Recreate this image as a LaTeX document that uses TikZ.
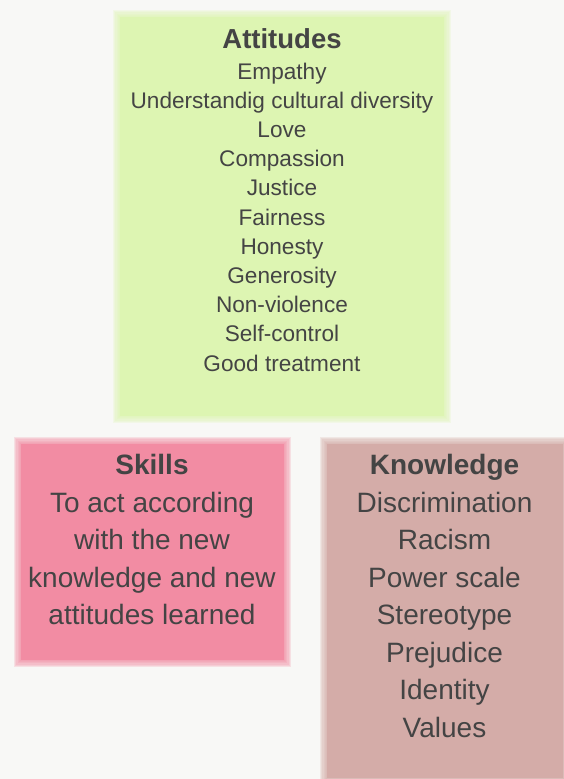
\documentclass[tikz,border=0pt]{standalone}
\usepackage{fontspec}
\setmainfont{Liberation Sans}
\definecolor{bgc}{RGB}{248,248,246}
\definecolor{attc}{RGB}{221,245,178}
\definecolor{skic}{RGB}{242,140,163}
\definecolor{knoc}{RGB}{212,172,168}
\definecolor{txtc}{RGB}{68,68,68}
\tikzset{
  boxnode/.style={draw=none, inner sep=0pt, outer sep=0pt},
  titletxt/.style={anchor=base, inner sep=0pt, text=txtc, font=\fontsize{27.5}{33}\selectfont\bfseries},
  smalltxt/.style={anchor=base, inner sep=0pt, text=txtc, font=\fontsize{22.6}{27}\selectfont},
  bigtxt/.style={anchor=base, inner sep=0pt, text=txtc, font=\fontsize{28}{33}\selectfont},
}
\begin{document}
\begin{tikzpicture}[x=1pt,y=-1pt]
\useasboundingbox (0,0) rectangle (564,779);
\fill[bgc] (0,0) rectangle (564,779);
% soft edged boxes
\foreach \c/\xa/\ya/\xb/\yb in {attc/113/10/451/423, skic/14/437/291/667, knoc/320/437/570/785}{
  \foreach \d in {0,1.2,2.4,3.6,4.8,6}{
    \fill[\c, opacity=0.22] (\xa+\d,\ya+\d) rectangle (\xb-\d,\yb-\d);
  }
}
\node[boxnode, fill=attc, minimum width=324pt, minimum height=399pt] (attbox) at (282,216.5) {};
\node[boxnode, fill=skic, minimum width=263pt, minimum height=216pt] (skibox) at (152.5,552) {};
\node[boxnode, fill=knoc, minimum width=236pt, minimum height=334pt] (knobox) at (445,611) {};
% Attitudes
\node[titletxt] (atttitle) at (282,48) {Attitudes};
\foreach \t [count=\i] in {Empathy, Understandig cultural diversity, Love, Compassion, Justice, Fairness, Honesty, Generosity, Non-violence, Self-control, Good treatment}{
  \node[smalltxt] (att\i) at (282,{79+29.2*(\i-1)}) {\t};
}
% Skills
\node[titletxt, font=\fontsize{28}{33}\selectfont\bfseries] (skititle) at (152,474) {Skills};
\foreach \t [count=\i] in {To act according, with the new, knowledge and new, attitudes learned}{
  \node[bigtxt] (ski\i) at (152,{512+37.5*(\i-1)}) {\t};
}
% Knowledge
\node[titletxt, font=\fontsize{28}{33}\selectfont\bfseries] (knotitle) at (444.5,474) {Knowledge};
\foreach \t [count=\i] in {Discrimination, Racism, Power scale, Stereotype, Prejudice, Identity, Values}{
  \node[bigtxt] (kno\i) at (444.5,{512+37.5*(\i-1)}) {\t};
}
\end{tikzpicture}
\end{document}
